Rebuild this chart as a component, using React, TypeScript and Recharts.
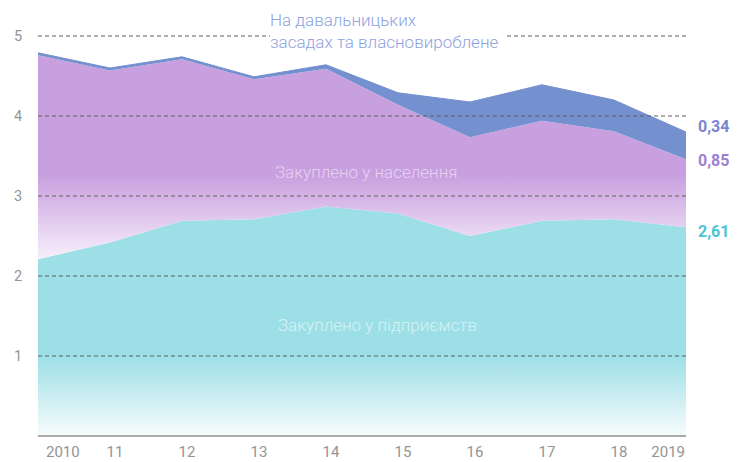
import React from 'react';
import { AreaChart, Area, XAxis, YAxis, ReferenceLine } from 'recharts';

const years = ['2010', '11', '12', '13', '14', '15', '16', '17', '18', '2019'];
const enterprises = [2.21, 2.42, 2.69, 2.71, 2.87, 2.78, 2.5, 2.69, 2.71, 2.61];
const population = [2.55, 2.15, 2.02, 1.75, 1.72, 1.36, 1.235, 1.25, 1.1, 0.85];
const tolling = [0.03, 0.03, 0.03, 0.03, 0.05, 0.15, 0.44, 0.45, 0.39, 0.34];
const yTicks = [1, 2, 3, 4, 5];
const endLabels = ['0,34', '0,85', '2,61'];

const data = years.map((y, i) => ({
  year: y,
  ent: enterprises[i],
  pop: population[i],
  toll: tolling[i],
}));

const FONT = 'Roboto, "Noto Sans", sans-serif';

const XTick = (props: any) => {
  const { x, y, payload } = props;
  const v = payload.value;
  let anchor = 'middle';
  let dx = 5;
  if (v === '2010') { anchor = 'start'; dx = 8; }
  if (v === '2019') { anchor = 'end'; dx = -1; }
  return (
    <text x={x + dx} y={y + 13} textAnchor={anchor} fill="#949494" fontSize={15} fontFamily={FONT}>
      {v}
    </text>
  );
};

const YTick = (props: any) => {
  const { y, payload } = props;
  return (
    <text x={18} y={y + 5} textAnchor="middle" fill="#949494" fontSize={14.5} fontFamily={FONT}>
      {payload.value}
    </text>
  );
};

export default function App() {
  return (
    <div style={{ position: 'absolute', left: 0, top: 0, width: 739, height: 462, background: '#fff' }}>
      <AreaChart width={739} height={462} data={data} margin={{ top: 36, right: 53, left: 0, bottom: 0 }}>
        <defs>
          <linearGradient id="gCyan" gradientUnits="userSpaceOnUse" x1="0" y1="36" x2="0" y2="436">
            <stop offset="0" stopColor="#9DDFE6" />
            <stop offset="0.8" stopColor="#9DDFE6" />
            <stop offset="1" stopColor="#F7FCFD" />
          </linearGradient>
          <linearGradient id="gPurple" gradientUnits="userSpaceOnUse" x1="0" y1="36" x2="0" y2="436">
            <stop offset="0" stopColor="#C9A0DF" />
            <stop offset="0.35" stopColor="#C9A0DF" />
            <stop offset="0.56" stopColor="#F7F0FB" />
            <stop offset="1" stopColor="#F7F0FB" />
          </linearGradient>
        </defs>
        <XAxis
          dataKey="year"
          height={26}
          axisLine={{ stroke: '#aaaaaa', strokeWidth: 2 }}
          tickLine={false}
          tick={<XTick />}
          interval={0}
        />
        <YAxis
          width={38}
          domain={[0, 5]}
          ticks={yTicks}
          axisLine={false}
          tickLine={false}
          tick={<YTick />}
        />
        <Area type="linear" dataKey="ent" stackId="1" stroke="none" fill="url(#gCyan)" fillOpacity={1} isAnimationActive={false} />
        <Area type="linear" dataKey="pop" stackId="1" stroke="none" fill="url(#gPurple)" fillOpacity={1} isAnimationActive={false} />
        <Area type="linear" dataKey="toll" stackId="1" stroke="#7490CF" strokeWidth={1} fill="#7490CF" fillOpacity={1} isAnimationActive={false} />
        {yTicks.map((t) => (
          <ReferenceLine key={t} y={t} stroke="#5e5e5e" strokeWidth={1.2} strokeDasharray="4 3" />
        ))}
      </AreaChart>
      <div
        style={{
          position: 'absolute', left: 270, top: 9, width: 236, background: '#fff',
          color: '#8EA2E0', fontFamily: FONT, fontWeight: 300, fontSize: 17, lineHeight: '22px', whiteSpace: 'nowrap',
        }}
      >
        <div>На давальницьких</div>
        <div>засадах та власновироблене</div>
      </div>
      <div
        style={{
          position: 'absolute', left: 275, top: 161, color: 'rgba(255,255,255,0.55)',
          fontFamily: FONT, fontWeight: 300, fontSize: 17, lineHeight: '22px', whiteSpace: 'nowrap',
        }}
      >
        Закуплено у населення
      </div>
      <div
        style={{
          position: 'absolute', left: 278, top: 314, color: 'rgba(255,255,255,0.6)',
          fontFamily: FONT, fontWeight: 300, fontSize: 17, lineHeight: '22px', whiteSpace: 'nowrap',
        }}
      >
        Закуплено у підприємств
      </div>
      <div style={{ position: 'absolute', left: 698, top: 116, color: '#7A86D2', fontFamily: FONT, fontWeight: 700, fontSize: 16, lineHeight: '22px' }}>
        {endLabels[0]}
      </div>
      <div style={{ position: 'absolute', left: 698, top: 150, color: '#9C7FD5', fontFamily: FONT, fontWeight: 700, fontSize: 16, lineHeight: '22px' }}>
        {endLabels[1]}
      </div>
      <div style={{ position: 'absolute', left: 698, top: 221, color: '#4EC3D5', fontFamily: FONT, fontWeight: 700, fontSize: 16, lineHeight: '22px' }}>
        {endLabels[2]}
      </div>
    </div>
  );
}
